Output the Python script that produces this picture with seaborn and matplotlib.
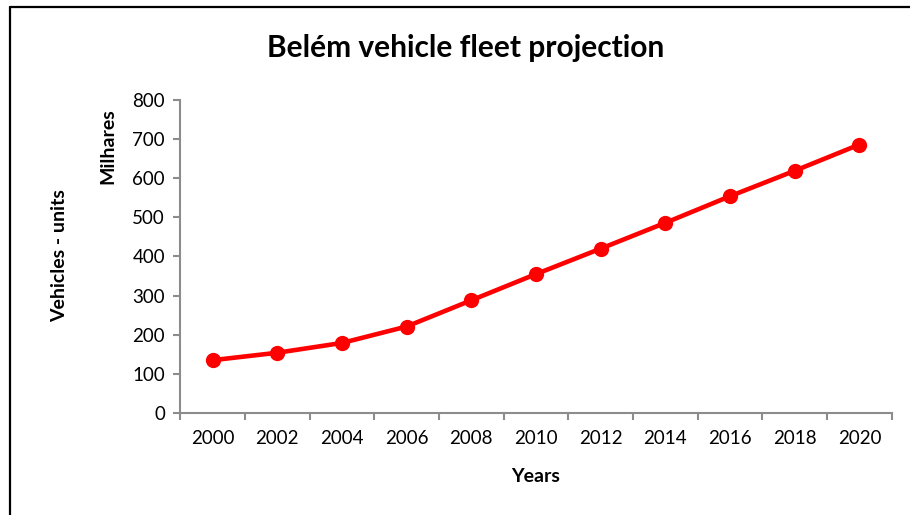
import matplotlib
matplotlib.use("Agg")
import matplotlib.pyplot as plt
import seaborn as sns
import pandas as pd
from matplotlib.lines import Line2D

years = [2000, 2002, 2004, 2006, 2008, 2010, 2012, 2014, 2016, 2018, 2020]
fleet = [135, 154, 179, 221, 288, 355, 420, 486, 554, 619, 686]  # milhares

df = pd.DataFrame({"year": years, "fleet": fleet})

sns.set_theme(style="white")
plt.rcParams["font.family"] = ["Lato", "DejaVu Sans"]
plt.rcParams["text.color"] = "black"
plt.rcParams["axes.labelcolor"] = "black"

fig = plt.figure(figsize=(9.1, 5.15), dpi=100)
ax = fig.add_axes([0.198, 0.198, 0.782, 0.608])

sns.lineplot(data=df, x="year", y="fleet", ax=ax, color="#ff0000",
             linewidth=3.3, marker="o", markersize=11, markeredgewidth=0)

axis_grey = "#8c8c8c"
ax.set_xlim(1999, 2021)
ax.set_ylim(0, 800)
ax.set_yticks(range(0, 801, 100))
ax.set_xticks(range(1999, 2022, 2))
ax.set_xticklabels([""] * 12)
ax.set_xticks(years, minor=True)
ax.set_xticklabels([str(y) for y in years], minor=True)
ax.tick_params(axis="x", which="major", length=5, width=1.5, color=axis_grey,
               direction="out", bottom=True)
ax.tick_params(axis="x", which="minor", length=0, labelsize=13.5, pad=12,
               labelcolor="black")
ax.tick_params(axis="y", length=5, width=1.5, color=axis_grey,
               direction="out", left=True, labelsize=13.5, pad=6,
               labelcolor="black")
for s in ["top", "right"]:
    ax.spines[s].set_visible(False)
for s in ["left", "bottom"]:
    ax.spines[s].set_color(axis_grey)
    ax.spines[s].set_linewidth(1.5)

ax.set_xlabel("Years", fontsize=14, fontweight="bold", labelpad=15,
              color="black")
ax.set_ylabel("")
fig.text(0.065, 0.503, "Vehicles - units", rotation=90, fontsize=14,
         fontweight="bold", ha="center", va="center")
fig.text(0.118, 0.716, "Milhares", rotation=90, fontsize=14,
         fontweight="bold", ha="center", va="center")
fig.text(0.5115, 0.907, "Belém vehicle fleet projection", fontsize=21.5,
         fontweight="bold", ha="center", va="center")

# chart frame (left and top edges visible)
fig.add_artist(Line2D([0.011, 0.011], [0, 0.986], color="black", lw=1.6,
                      transform=fig.transFigure))
fig.add_artist(Line2D([0.011, 1.0], [0.986, 0.986], color="black", lw=1.6,
                      transform=fig.transFigure))

fig.savefig("out.png", dpi=100)
